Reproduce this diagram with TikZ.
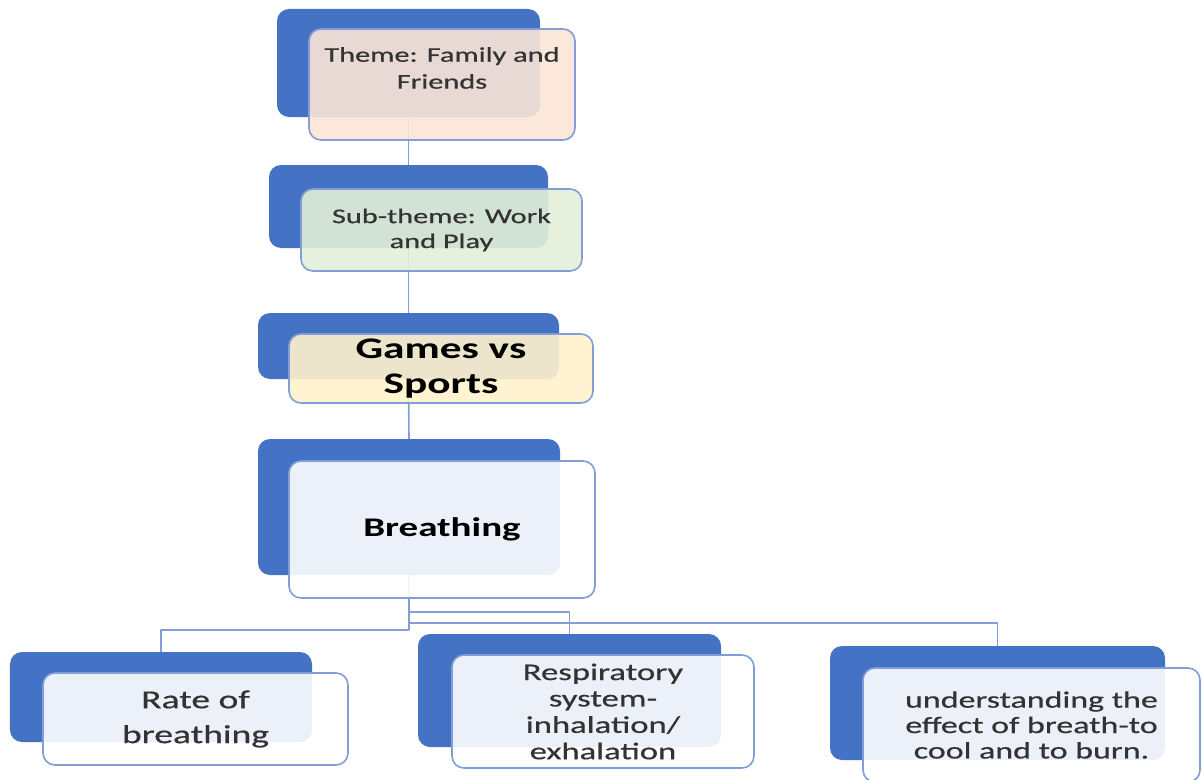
\documentclass[tikz,border=0pt]{standalone}
\usepackage{fontspec}
\setmainfont{Carlito}[FakeStretch=1.45,UprightFeatures={FakeBold=0.6}]
\usepackage{xcolor}
\usetikzlibrary{calc}

\definecolor{boxblue}{HTML}{4472C4}
\definecolor{edgeblue}{HTML}{819FD6}
\definecolor{peach}{HTML}{FBE5D6}
\definecolor{palegreen}{HTML}{E2F0D9}
\definecolor{paleyellow}{HTML}{FFF2CC}
\definecolor{txtgray}{HTML}{333333}

\begin{document}
\begin{tikzpicture}[x=1bp,y=-1bp,line join=bevel,
  back/.style={fill=boxblue,rounded corners=12bp,inner sep=0pt},
  front/.style={draw=edgeblue,line width=1.6bp,fill=white,fill opacity=0.9,text opacity=1,
    rounded corners=12bp,inner sep=0pt,align=center,text=txtgray},
  link/.style={draw=edgeblue,line width=1.6bp}]
\useasboundingbox (0,0) rectangle (1202,780);
%%
  % Node: themeBack
  \node[back,minimum width=263bp,minimum height=108bp] (themeBack) at (408.5,63) {};
  % Node: subBack
  \node[back,minimum width=279bp,minimum height=83bp] (subBack) at (408.5,206.5) {};
  % Node: gamesBack
  \node[back,minimum width=301bp,minimum height=66bp] (gamesBack) at (408.5,346) {};
  % Node: breathBack
  \node[back,minimum width=302bp,minimum height=136bp] (breathBack) at (409,507) {};
  % Node: rateBack
  \node[back,minimum width=302bp,minimum height=90bp] (rateBack) at (161,697) {};
  % Node: respBack
  \node[back,minimum width=303bp,minimum height=113bp] (respBack) at (569.5,690.5) {};
  % Node: effectBack
  \node[back,minimum width=335bp,minimum height=114bp] (effectBack) at (997.5,703) {};
%%
  % Edge: themeBack -> subBack
  \draw[link] (themeBack.south) -- (subBack.north);
  % Edge: subBack -> gamesBack
  \draw[link] (subBack.south) -- (gamesBack.north);
  % Edge: gamesBack -> breathBack
  \draw[link] (gamesBack.south) -- (breathBack.north);
  % Edge: breathBack -> rateBack
  \draw[link] (breathBack.south) -- ++(0,55) -| (rateBack.north);
  % Edge: breathBack -> respBack
  \draw[link] (breathBack.south) -- ++(0,37) -| (respBack.north);
  % Edge: breathBack -> effectBack
  \draw[link] (breathBack.south) -- ++(0,48) -| (effectBack.north);
%%
  % Node: themeBox
  \node[front,fill=peach,minimum width=266bp,minimum height=111bp] (themeBox) at (442,84.5) {};
  \node[align=center,text=txtgray,font=\fontsize{21}{27}\selectfont] (themeTxt) at (442,68)
    {Theme: Family and\\Friends};
  % Node: subBox
  \node[front,fill=palegreen,minimum width=281bp,minimum height=82bp,
    font=\fontsize{21}{25}\selectfont] (subBox) at (441.5,230)
    {Sub-theme: Work\\and Play};
  % Node: gamesBox
  \node[front,fill=paleyellow,minimum width=304bp,minimum height=69bp,text=black,
    font=\bfseries\fontsize{30}{35}\selectfont] (gamesBox) at (441,368.5)
    {Games vs\\Sports};
  % Node: breathBox
  \node[front,minimum width=306bp,minimum height=137bp,text=black,
    font=\bfseries\fontsize{27}{32}\selectfont] (breathBox) at (442,529.5)
    {Breathing};
  % Node: rateBox
  \node[front,minimum width=305bp,minimum height=92bp,
    font=\fontsize{26}{35}\selectfont] (rateBox) at (195.5,719)
    {Rate of\\breathing};
  % Node: respBox
  \node[front,minimum width=302bp,minimum height=113bp,
    font=\fontsize{24}{26.5}\selectfont] (respBox) at (603,711.5)
    {Respiratory\\system-\\inhalation/\\exhalation};
  % Node: effectBox
  \node[front,minimum width=337bp,minimum height=114bp,
    font=\fontsize{23.5}{25.5}\selectfont] (effectBox) at (1031.5,725)
    {understanding the\\effect of breath-to\\cool and to burn.};
%
\end{tikzpicture}
\end{document}
